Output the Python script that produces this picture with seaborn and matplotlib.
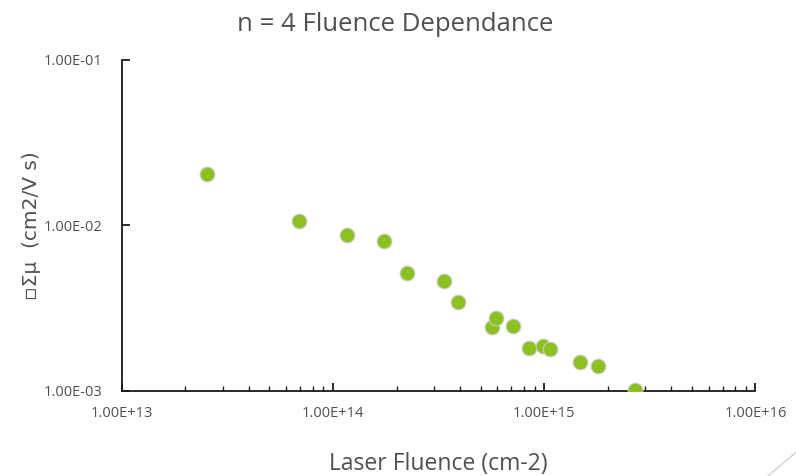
import numpy as np
import pandas as pd
import matplotlib
matplotlib.use("Agg")
import matplotlib.pyplot as plt
from matplotlib.ticker import FuncFormatter, LogLocator, NullLocator
from matplotlib.lines import Line2D
import seaborn as sns

# Laser fluence (cm-2) and signal (cm2/V s)
fluence = [2.53e13, 6.9e13, 1.16e14, 1.74e14, 2.23e14, 3.35e14, 3.92e14,
           5.65e14, 5.91e14, 7.11e14, 8.47e14, 9.9e14, 1.07e15, 1.48e15,
           1.80e15, 2.69e15]
signal = [2.04e-2, 1.07e-2, 8.73e-3, 8.0e-3, 5.15e-3, 4.60e-3, 3.45e-3,
          2.44e-3, 2.77e-3, 2.46e-3, 1.81e-3, 1.87e-3, 1.80e-3, 1.50e-3,
          1.41e-3, 1.01e-3]

title = "n = 4 Fluence Dependance"
xlabel = "Laser Fluence (cm-2)"
ylabel = "\u25abΣμ  (cm2/V s)"

data = pd.DataFrame({"fluence": fluence, "signal": signal})

sns.set_style("white")
plt.rcParams["font.family"] = ["Open Sans", "DejaVu Sans"]
text_grey = "#505050"

fig = plt.figure(figsize=(7.96, 4.76), dpi=100)
ax = fig.add_axes([0.153, 0.179, 0.796, 0.695])

sns.scatterplot(data=data, x="fluence", y="signal", ax=ax, s=110,
                color="#8CC21E", edgecolor="#C8C8C8", linewidth=0.8, zorder=3)

ax.set_xscale("log")
ax.set_yscale("log")
ax.set_xlim(1e13, 1e16)
ax.set_ylim(1e-3, 1e-1)

fmt = FuncFormatter(lambda v, pos: f"{v:.2E}")
ax.xaxis.set_major_locator(LogLocator(base=10, numticks=10))
ax.xaxis.set_minor_locator(LogLocator(base=10, subs=np.arange(2, 10), numticks=10))
ax.yaxis.set_major_locator(LogLocator(base=10, numticks=10))
ax.yaxis.set_minor_locator(NullLocator())
ax.xaxis.set_major_formatter(fmt)
ax.yaxis.set_major_formatter(fmt)
ax.xaxis.set_minor_formatter(FuncFormatter(lambda v, pos: ""))

for side in ["top", "right"]:
    ax.spines[side].set_visible(False)
for side in ["left", "bottom"]:
    ax.spines[side].set_color("#1a1a1a")
    ax.spines[side].set_linewidth(1.3)

ax.tick_params(axis="both", which="major", direction="in", length=6, width=1.3,
               color="#1a1a1a", labelsize=10.5, labelcolor=text_grey, left=True, bottom=True)
ax.tick_params(axis="y", which="major", pad=14)
ax.tick_params(axis="x", which="major", pad=11)
ax.tick_params(axis="x", which="minor", direction="in", length=3.5, width=1.0,
               color="#1a1a1a", bottom=True)

ax.set_xlabel(xlabel, fontsize=16.5, color=text_grey, labelpad=22)
ax.set_ylabel(ylabel, fontsize=14.5, color=text_grey, labelpad=2,
              family=["DejaVu Sans"])
fig.suptitle(title, fontsize=18.5, color=text_grey, x=0.497, y=0.975)

# slide decoration line in the lower right corner
fig.add_artist(Line2D([0.965, 1.0], [0.0, 0.05], transform=fig.transFigure,
                      color="#C8C8C8", linewidth=0.8))

fig.savefig("out.png", dpi=100)
